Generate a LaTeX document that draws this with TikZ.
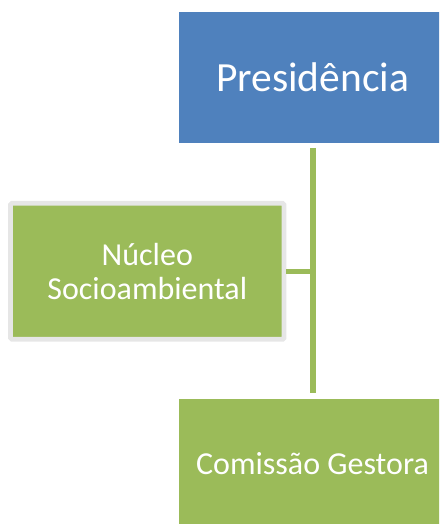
\documentclass[tikz,border=0pt]{standalone}
\usepackage{fontspec}
\setmainfont{Carlito}
\definecolor{bblue}{HTML}{4F81BD}
\definecolor{bgreen}{HTML}{9BBB59}
\definecolor{bgray}{HTML}{E6E6E6}
\begin{document}
\begin{tikzpicture}[x=1pt,y=-1pt,
  box/.style={rectangle, inner sep=0pt, text=white, align=center},
  conn/.style={draw=bgreen, line width=6pt}]
\useasboundingbox (0,0) rectangle (439,524);
\begin{scope}
\clip (0,0) rectangle (439,524);
\node[box, fill=bblue, minimum width=268pt, minimum height=131pt,
  font=\fontsize{41.5}{44}\selectfont] (pres) at (312.5,77.2) {Presidência};
\node[box, fill=bgreen, minimum width=268pt, minimum height=129pt,
  font=\fontsize{32}{34}\selectfont] (com) at (312.5,463.5) {Comissão Gestora};
\node[box, fill=bgreen, draw=bgray, line width=4.8pt, rounded corners=1.5pt,
  minimum width=273.5pt, minimum height=136pt,
  font=\fontsize{32}{34}\selectfont] (nuc) at (147.3,271.3) {Núcleo\\Socioambiental};
\draw[conn, shorten <=5pt, shorten >=5.5pt] (pres.south) -- (com.north);
\draw[conn, line width=5pt] (nuc.east) -- ([xshift=1pt]nuc.east -| pres.south);
\end{scope}
\end{tikzpicture}
\end{document}
